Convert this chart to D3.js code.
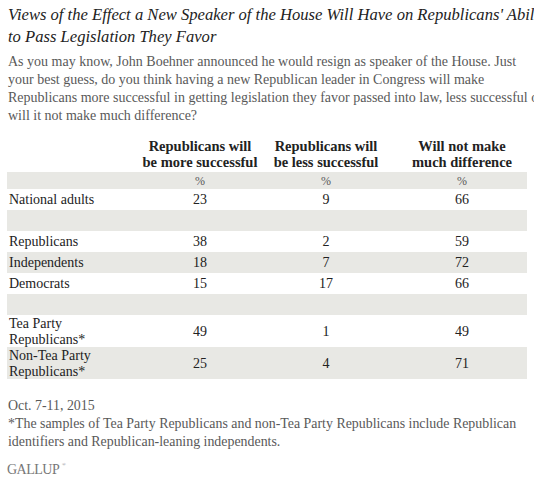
<!DOCTYPE html>
<html><head><meta charset="utf-8">
<script src="https://cdn.jsdelivr.net/npm/d3@7"></script>
<style>
body{margin:0;background:#fff;}
text{font-family:"Liberation Serif",Georgia,serif;}
</style></head>
<body><svg id="chart" width="534" height="480"></svg>
<script>
const titleLines = ["Views of the Effect a New Speaker of the House Will Have on Republicans' Ability",
	"to Pass Legislation They Favor"];
const questionLines = ["As you may know, John Boehner announced he would resign as speaker of the House. Just",
	"your best guess, do you think having a new Republican leader in Congress will make",
	"Republicans more successful in getting legislation they favor passed into law, less successful or",
	"will it not make much difference?"];
const columns = [["Republicans will", "be more successful"], ["Republicans will", "be less successful"], ["Will not make", "much difference"]];
const groups = [[""], ["National adults"], [""], ["Republicans"], ["Independents"], ["Democrats"], [""],
	["Tea Party", "Republicans*"], ["Non-Tea Party", "Republicans*"]];
const moreSuccessful = ["%", 23, null, 38, 18, 15, null, 49, 25];
const lessSuccessful = ["%", 9, null, 2, 7, 17, null, 1, 4];
const noDifference = ["%", 66, null, 59, 72, 66, null, 49, 71];
const notes = ["Oct. 7-11, 2015",
	"*The samples of Tea Party Republicans and non-Tea Party Republicans include Republican",
	"identifiers and Republican-leaning independents."];

let svg = d3.select("#chart");
let grey = "#595959";

svg.append("g").selectAll("text").data(titleLines).join("text")
	.attr("x", 8).attr("y", (d, i) => 20 + i * 22)
	.attr("font-size", 16.6).attr("font-style", "italic").attr("fill", "#222")
	.text(d => d);

svg.append("g").selectAll("text").data(questionLines).join("text")
	.attr("x", 8).attr("y", (d, i) => 66 + i * 18)
	.attr("font-size", 14).attr("fill", grey)
	.text(d => d);

// table
let x = d3.scaleOrdinal().domain([0, 1, 2]).range([200, 326, 462]);
let rowH = groups.map((g, i) => i === 0 ? 17 : (g.length > 1 ? 32 : 21));
let tops = d3.cumsum([172].concat(rowH));

let header = svg.append("g");
columns.forEach((c, i) => {
	header.selectAll(null).data(c).join("text")
		.attr("x", x(i)).attr("y", (d, j) => 151 + j * 16)
		.attr("text-anchor", "middle").attr("font-size", 14.5).attr("font-weight", "bold").attr("fill", "#222")
		.text(d => d);
});

let rows = svg.append("g").selectAll("g").data(groups).join("g")
	.attr("transform", (d, i) => "translate(0," + tops[i] + ")");
rows.append("rect")
	.attr("x", 7).attr("width", 520).attr("height", (d, i) => rowH[i])
	.attr("fill", (d, i) => i % 2 === 0 ? "#e8e8e4" : "#fff");
rows.each(function (g, i) {
	let r = d3.select(this), h = rowH[i];
	r.selectAll("text.lab").data(g).join("text").attr("class", "lab")
		.attr("x", 9).attr("y", (d, j) => h / 2 + 4.5 + (j - (g.length - 1) / 2) * 16)
		.attr("font-size", 14).attr("fill", "#222").text(d => d);
	[moreSuccessful, lessSuccessful, noDifference].forEach((s, k) => {
		if (s[i] === null) return;
		r.append("text").attr("x", x(k)).attr("y", h / 2 + 4.5)
			.attr("text-anchor", "middle").attr("font-size", i === 0 ? 12 : 14)
			.attr("fill", i === 0 ? grey : "#222").text(s[i]);
	});
});

svg.append("g").selectAll("text").data(notes).join("text")
	.attr("x", 8).attr("y", (d, i) => 410 + i * 18)
	.attr("font-size", 13.9).attr("fill", grey)
	.text(d => d);

svg.append("text").attr("x", 7).attr("y", 474)
	.attr("font-size", 14).attr("fill", "#777").attr("letter-spacing", -0.5)
	.text("GALLUP");
svg.append("text").attr("x", 62).attr("y", 466)
	.attr("font-size", 5).attr("fill", "#777").text("®");
</script></body></html>
